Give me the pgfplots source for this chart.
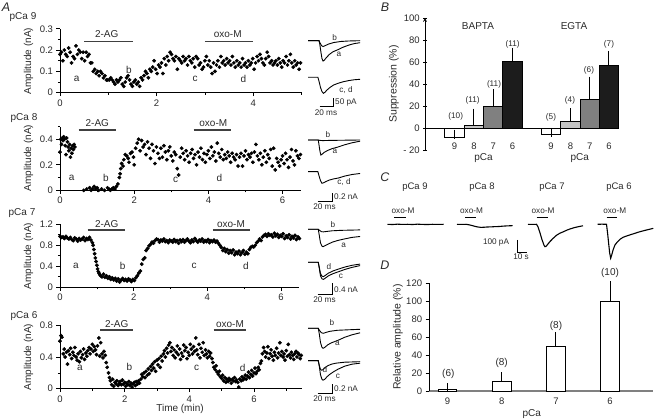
\documentclass[border=0pt]{standalone}
\usepackage{fontspec}
\setmainfont{Liberation Sans}
\usepackage{pgfplots}
\pgfplotsset{compat=1.18}
\definecolor{txt}{HTML}{2A2A2A}
\definecolor{barlt}{HTML}{C4C4C4}
\definecolor{barmd}{HTML}{808080}
\definecolor{bardk}{HTML}{1C1C1C}
\newcommand\fa{\fontsize{9.5}{10}\selectfont}
\newcommand\fc{\fontsize{10}{11}\selectfont}
\newcommand\fb{\fontsize{8.2}{9}\selectfont}
\newcommand\fl{\fontsize{12.5}{12}\selectfont\itshape}
\pgfplotsset{
  scat/.style={
    axis lines=left, axis line style={-, line width=0.7pt},
    tick align=outside, major tick length=3.5pt, minor tick length=2pt,
    tick style={black, line width=0.6pt},
    every tick label/.append style={font=\fa, text=txt},
    /pgf/number format/assume math mode=true,
    anchor=south west, clip=false,
  },
  dots/.style={only marks, mark=*, mark size=1.7pt, black},
  tr/.style={hide axis, anchor=south west, xmin=0, xmax=71, x=0.733pt, clip=false},
  trl/.style={black, line width=0.9pt, no marks},
  eb/.style={error bars/.cd, y dir=plus, y explicit, error bar style={line width=0.9pt,black}, error mark options={line width=0.9pt, black, mark size=4.5pt}},
}
\begin{document}
\begin{tikzpicture}
\useasboundingbox (0,0) rectangle (654pt,420pt);
% ---------------- A1 pCa 9
\begin{axis}[scat, at={(60pt,327.3pt)}, x=48.3pt, y=213pt, xmin=0,xmax=5,ymin=0,ymax=0.3,
  xtick={0,2,4}, minor xtick={1,3,5}, ytick={0,0.1,0.2,0.3}, minor ytick={0.05,0.15,0.25}]
\addplot[dots] coordinates {(0,0.18)(0.03,0.19)(0.06,0.15)(0.09,0.20)(0.12,0.18)(0.15,0.17)(0.18,0.21)(0.21,0.19)(0.24,0.14)(0.27,0.17)(0.30,0.16)(0.33,0.22)(0.36,0.18)(0.39,0.20)(0.42,0.19)(0.45,0.16)(0.48,0.19)(0.51,0.15)(0.54,0.19)(0.57,0.17)(0.60,0.18)(0.63,0.14)(0.66,0.14)(0.69,0.10)(0.72,0.11)(0.75,0.09)(0.78,0.10)(0.81,0.08)(0.84,0.10)(0.87,0.09)(0.90,0.07)(0.93,0.08)(0.96,0.06)(0.99,0.06)(1.02,0.06)(1.05,0.07)(1.08,0.06)(1.11,0.05)(1.14,0.04)(1.17,0.06)(1.20,0.05)(1.23,0.06)(1.26,0.07)(1.29,0.04)(1.32,0.03)(1.35,0.05)(1.38,0.07)(1.41,0.08)(1.44,0.06)(1.47,0.04)(1.50,0.03)(1.53,0.05)(1.56,0.06)(1.59,0.04)(1.62,0.05)(1.65,0.03)(1.68,0.07)(1.71,0.06)(1.74,0.08)(1.77,0.10)(1.80,0.09)(1.83,0.07)(1.86,0.11)(1.89,0.10)(1.92,0.12)(1.95,0.15)(1.98,0.11)(2.01,0.09)(2.04,0.13)(2.07,0.12)(2.10,0.14)(2.13,0.09)(2.16,0.16)(2.19,0.13)(2.22,0.17)(2.25,0.15)(2.28,0.19)(2.31,0.18)(2.34,0.16)(2.37,0.15)(2.40,0.17)(2.43,0.11)(2.46,0.16)(2.49,0.15)(2.52,0.14)(2.55,0.17)(2.58,0.15)(2.61,0.16)(2.64,0.13)(2.67,0.17)(2.70,0.15)(2.73,0.14)(2.76,0.16)(2.79,0.12)(2.82,0.17)(2.85,0.16)(2.88,0.13)(2.91,0.14)(2.94,0.11)(2.97,0.12)(3.00,0.15)(3.03,0.17)(3.06,0.13)(3.09,0.15)(3.12,0.12)(3.15,0.09)(3.18,0.14)(3.21,0.10)(3.24,0.13)(3.27,0.15)(3.30,0.12)(3.33,0.17)(3.36,0.14)(3.39,0.15)(3.42,0.13)(3.45,0.16)(3.48,0.14)(3.51,0.15)(3.54,0.13)(3.57,0.17)(3.60,0.14)(3.63,0.12)(3.66,0.15)(3.69,0.13)(3.72,0.14)(3.75,0.12)(3.78,0.16)(3.81,0.13)(3.84,0.14)(3.87,0.12)(3.90,0.15)(3.93,0.13)(3.96,0.14)(3.99,0.16)(4.02,0.11)(4.05,0.14)(4.08,0.17)(4.11,0.15)(4.14,0.18)(4.17,0.16)(4.20,0.14)(4.23,0.13)(4.26,0.16)(4.29,0.19)(4.32,0.17)(4.35,0.14)(4.38,0.15)(4.41,0.13)(4.44,0.14)(4.47,0.15)(4.50,0.13)(4.53,0.16)(4.56,0.14)(4.59,0.12)(4.62,0.15)(4.65,0.14)(4.68,0.17)(4.71,0.13)(4.74,0.15)(4.77,0.18)(4.80,0.14)(4.83,0.12)(4.86,0.15)(4.89,0.13)(4.92,0.14)(4.95,0.11)(4.98,0.14)};
\end{axis}
% ---------------- A2 pCa 8
\begin{axis}[scat, at={(60pt,229.7pt)}, x=37.1pt, y=127.5pt, xmin=0,xmax=6.5,ymin=0,ymax=0.5,
  xtick={0,2,4,6}, minor xtick={1,3,5}, ytick={0,0.2,0.4}, minor ytick={0.1,0.3,0.5}]
\addplot[dots] coordinates {(0.00,0.30)(0.02,0.40)(0.04,0.36)(0.06,0.41)(0.08,0.39)(0.10,0.42)(0.12,0.40)(0.14,0.35)(0.16,0.28)(0.18,0.41)(0.20,0.38)(0.22,0.34)(0.24,0.31)(0.26,0.36)(0.28,0.26)(0.30,0.33)(0.32,0.29)(0.34,0.35)(0.36,0.32)(0.38,0.36)(0.40,0.34)(0.64,0.00)(0.72,0.01)(0.80,0.02)(0.84,0.00)(0.88,0.01)(0.92,0.03)(0.96,0.01)(1.00,0.02)(1.04,0.00)(1.12,0.01)(1.20,0.00)(1.28,0.02)(1.32,0.01)(1.36,0.00)(1.40,0.01)(1.44,0.02)(1.48,0.01)(1.52,0.03)(1.56,0.05)(1.60,0.10)(1.62,0.13)(1.64,0.17)(1.66,0.21)(1.70,0.19)(1.72,0.24)(1.76,0.28)(1.80,0.27)(1.84,0.25)(1.86,0.22)(1.90,0.29)(1.94,0.30)(1.98,0.26)(2.00,0.20)(2.04,0.33)(2.08,0.37)(2.12,0.40)(2.16,0.31)(2.20,0.39)(2.24,0.34)(2.28,0.36)(2.32,0.28)(2.36,0.38)(2.40,0.33)(2.44,0.25)(2.48,0.36)(2.52,0.31)(2.56,0.21)(2.60,0.34)(2.64,0.29)(2.68,0.25)(2.72,0.33)(2.76,0.26)(2.80,0.35)(2.84,0.30)(2.88,0.24)(2.92,0.31)(2.96,0.34)(3.00,0.27)(3.04,0.23)(3.08,0.30)(3.12,0.28)(3.16,0.17)(3.20,0.12)(3.24,0.26)(3.28,0.33)(3.32,0.29)(3.36,0.24)(3.40,0.31)(3.44,0.27)(3.48,0.22)(3.52,0.29)(3.56,0.32)(3.60,0.25)(3.64,0.28)(3.68,0.20)(3.72,0.30)(3.76,0.26)(3.80,0.33)(3.84,0.24)(3.88,0.29)(3.92,0.22)(3.96,0.28)(4.00,0.31)(4.04,0.25)(4.08,0.34)(4.12,0.27)(4.16,0.30)(4.20,0.23)(4.24,0.37)(4.28,0.29)(4.32,0.26)(4.36,0.32)(4.40,0.24)(4.44,0.28)(4.48,0.25)(4.52,0.30)(4.56,0.27)(4.60,0.22)(4.64,0.29)(4.68,0.26)(4.72,0.24)(4.76,0.28)(4.80,0.19)(4.84,0.26)(4.88,0.29)(4.92,0.19)(4.96,0.27)(5.00,0.31)(5.04,0.24)(5.08,0.28)(5.12,0.26)(5.16,0.29)(5.20,0.22)(5.24,0.30)(5.28,0.36)(5.32,0.27)(5.36,0.24)(5.40,0.29)(5.44,0.20)(5.48,0.26)(5.52,0.31)(5.56,0.22)(5.60,0.28)(5.64,0.25)(5.68,0.32)(5.72,0.19)(5.76,0.33)(5.80,0.16)(5.84,0.25)(5.88,0.22)(5.92,0.19)(5.96,0.24)(6.00,0.27)(6.04,0.21)(6.08,0.29)(6.12,0.24)(6.16,0.18)(6.20,0.26)(6.24,0.32)(6.28,0.23)(6.32,0.20)(6.36,0.31)(6.40,0.27)(6.44,0.25)(6.48,0.28)};
\end{axis}
% ---------------- A3 pCa 7
\begin{axis}[scat, at={(60pt,132.7pt)}, x=36.83pt, y=52.5pt, xmin=0,xmax=6.5,ymin=0,ymax=1.2,
  xtick={0,2,4,6}, minor xtick={1,3,5}, ytick={0,0.4,0.8,1.2}, minor ytick={0.2,0.6,1.0}]
\addplot[dots] coordinates {(0.00,0.97)(0.04,0.95)(0.08,0.96)(0.12,0.93)(0.16,0.97)(0.20,0.94)(0.24,0.92)(0.28,0.95)(0.32,0.91)(0.36,0.89)(0.40,0.94)(0.44,0.92)(0.48,0.88)(0.52,0.93)(0.56,0.90)(0.60,0.92)(0.64,0.95)(0.68,0.89)(0.72,0.93)(0.76,0.91)(0.80,0.95)(0.84,0.90)(0.88,0.85)(0.90,0.80)(0.92,0.72)(0.94,0.64)(0.96,0.56)(0.98,0.49)(1.00,0.42)(1.02,0.35)(1.04,0.30)(1.06,0.27)(1.08,0.24)(1.10,0.22)(1.14,0.20)(1.18,0.25)(1.22,0.19)(1.26,0.22)(1.30,0.17)(1.34,0.20)(1.38,0.15)(1.42,0.18)(1.46,0.14)(1.50,0.17)(1.54,0.12)(1.58,0.16)(1.62,0.10)(1.66,0.14)(1.70,0.17)(1.74,0.13)(1.78,0.15)(1.82,0.12)(1.86,0.16)(1.90,0.14)(1.94,0.11)(1.98,0.15)(2.02,0.13)(2.06,0.18)(2.10,0.22)(2.14,0.27)(2.18,0.31)(2.22,0.44)(2.26,0.53)(2.30,0.56)(2.34,0.70)(2.38,0.74)(2.42,0.79)(2.46,0.82)(2.50,0.86)(2.54,0.84)(2.58,0.89)(2.62,0.92)(2.66,0.91)(2.70,0.86)(2.74,0.90)(2.78,0.88)(2.82,0.92)(2.86,0.87)(2.90,0.89)(2.94,0.85)(2.98,0.90)(3.02,0.88)(3.06,0.86)(3.10,0.91)(3.14,0.87)(3.18,0.89)(3.22,0.84)(3.26,0.90)(3.30,0.87)(3.34,0.91)(3.38,0.86)(3.42,0.89)(3.46,0.92)(3.50,0.88)(3.54,0.85)(3.58,0.90)(3.62,0.87)(3.66,0.93)(3.70,0.89)(3.74,0.86)(3.78,0.90)(3.82,0.88)(3.86,0.92)(3.90,0.86)(3.94,0.89)(3.98,0.87)(4.02,0.91)(4.06,0.85)(4.10,0.89)(4.14,0.87)(4.18,0.90)(4.22,0.86)(4.26,0.88)(4.30,0.84)(4.34,0.80)(4.38,0.76)(4.42,0.70)(4.46,0.74)(4.50,0.68)(4.54,0.72)(4.58,0.65)(4.62,0.70)(4.66,0.66)(4.70,0.71)(4.74,0.62)(4.78,0.67)(4.82,0.64)(4.86,0.69)(4.90,0.62)(4.94,0.66)(4.98,0.70)(5.02,0.63)(5.06,0.67)(5.10,0.64)(5.14,0.72)(5.18,0.76)(5.22,0.78)(5.26,0.77)(5.30,0.80)(5.34,0.85)(5.38,0.88)(5.42,0.92)(5.46,0.89)(5.50,0.96)(5.54,0.99)(5.58,1.01)(5.62,0.97)(5.66,1.02)(5.70,0.99)(5.74,1.00)(5.78,0.96)(5.82,1.03)(5.86,0.98)(5.90,1.01)(5.94,0.95)(5.98,0.99)(6.02,0.97)(6.06,1.02)(6.10,0.93)(6.14,0.98)(6.18,0.95)(6.22,1.00)(6.26,0.92)(6.30,0.97)(6.34,0.94)(6.38,0.99)(6.42,0.91)(6.46,0.96)(6.50,0.93)};
\end{axis}
% ---------------- A4 pCa 6
\begin{axis}[scat, at={(60pt,31.3pt)}, x=32.33pt, y=79.25pt, xmin=0,xmax=7.5,ymin=0,ymax=0.8,
  xtick={0,2,4,6}, minor xtick={1,3,5,7}, ytick={0,0.4,0.8}, minor ytick={0.2,0.6}]
\addplot[dots] coordinates {(0.00,0.60)(0.03,0.67)(0.06,0.65)(0.10,0.44)(0.13,0.50)(0.16,0.40)(0.20,0.46)(0.23,0.31)(0.26,0.48)(0.30,0.43)(0.33,0.51)(0.36,0.38)(0.40,0.46)(0.43,0.42)(0.46,0.52)(0.50,0.40)(0.53,0.36)(0.56,0.44)(0.60,0.34)(0.63,0.47)(0.66,0.39)(0.70,0.43)(0.73,0.50)(0.76,0.37)(0.80,0.45)(0.83,0.41)(0.86,0.48)(0.90,0.52)(0.93,0.44)(0.96,0.50)(1.00,0.56)(1.03,0.47)(1.06,0.53)(1.10,0.49)(1.13,0.43)(1.16,0.54)(1.20,0.64)(1.23,0.41)(1.26,0.58)(1.30,0.44)(1.33,0.39)(1.36,0.47)(1.40,0.42)(1.43,0.33)(1.46,0.27)(1.50,0.20)(1.53,0.14)(1.56,0.10)(1.60,0.05)(1.63,0.12)(1.66,0.03)(1.70,0.08)(1.73,0.06)(1.76,0.10)(1.80,0.04)(1.83,0.07)(1.86,0.09)(1.90,0.05)(1.93,0.11)(1.96,0.06)(2.00,0.08)(2.03,0.03)(2.06,0.07)(2.10,0.05)(2.13,0.09)(2.16,0.04)(2.20,0.07)(2.23,0.02)(2.26,0.06)(2.30,0.08)(2.33,0.04)(2.36,0.09)(2.40,0.06)(2.43,0.10)(2.46,0.07)(2.50,0.12)(2.53,0.18)(2.56,0.15)(2.60,0.20)(2.63,0.14)(2.66,0.22)(2.70,0.17)(2.73,0.25)(2.76,0.19)(2.80,0.28)(2.83,0.23)(2.86,0.31)(2.90,0.26)(2.93,0.34)(2.96,0.22)(3.00,0.36)(3.03,0.30)(3.06,0.38)(3.10,0.27)(3.13,0.41)(3.16,0.35)(3.20,0.44)(3.23,0.48)(3.26,0.40)(3.30,0.51)(3.33,0.45)(3.36,0.55)(3.40,0.58)(3.43,0.47)(3.46,0.52)(3.50,0.42)(3.53,0.49)(3.56,0.39)(3.60,0.46)(3.63,0.54)(3.66,0.43)(3.70,0.50)(3.73,0.37)(3.76,0.45)(3.80,0.41)(3.83,0.55)(3.86,0.48)(3.90,0.52)(3.93,0.38)(3.96,0.46)(4.00,0.42)(4.03,0.56)(4.06,0.50)(4.10,0.44)(4.13,0.53)(4.16,0.47)(4.20,0.64)(4.23,0.49)(4.26,0.43)(4.30,0.56)(4.33,0.39)(4.36,0.51)(4.40,0.46)(4.43,0.58)(4.46,0.42)(4.50,0.49)(4.53,0.44)(4.56,0.39)(4.60,0.47)(4.63,0.41)(4.66,0.45)(4.70,0.38)(4.73,0.33)(4.76,0.27)(4.80,0.24)(4.83,0.29)(4.86,0.21)(4.90,0.18)(4.93,0.22)(4.96,0.15)(5.00,0.13)(5.03,0.17)(5.06,0.10)(5.10,0.14)(5.13,0.08)(5.16,0.12)(5.20,0.09)(5.23,0.13)(5.26,0.11)(5.30,0.07)(5.33,0.12)(5.36,0.10)(5.40,0.14)(5.43,0.09)(5.46,0.11)(5.50,0.08)(5.53,0.02)(5.56,0.12)(5.60,0.10)(5.63,0.15)(5.66,0.11)(5.70,0.13)(5.73,0.17)(5.76,0.12)(5.80,0.16)(5.83,0.21)(5.86,0.14)(5.90,0.18)(5.93,0.23)(5.96,0.16)(6.00,0.20)(6.03,0.26)(6.06,0.19)(6.10,0.22)(6.13,0.27)(6.16,0.24)(6.20,0.32)(6.23,0.35)(6.26,0.44)(6.30,0.52)(6.33,0.47)(6.36,0.40)(6.40,0.45)(6.43,0.53)(6.46,0.38)(6.50,0.44)(6.53,0.49)(6.56,0.41)(6.60,0.36)(6.63,0.46)(6.66,0.42)(6.70,0.51)(6.73,0.39)(6.76,0.45)(6.80,0.58)(6.83,0.42)(6.86,0.47)(6.90,0.40)(6.93,0.44)(6.96,0.36)(7.00,0.48)(7.03,0.41)(7.06,0.56)(7.10,0.43)(7.13,0.39)(7.16,0.46)(7.20,0.42)(7.23,0.37)(7.26,0.44)(7.30,0.47)(7.33,0.40)(7.36,0.45)(7.40,0.43)(7.43,0.38)(7.46,0.42)};
\end{axis}
% ---------------- A traces
\begin{axis}[tr, at={(308pt,356.2pt)}, y=0.154pt, ymin=-150, ymax=20]
\addplot[trl] coordinates {(0,0)(15,0)(16,-20)(17.5,-70)(19,-115)(20.5,-132)(22,-128)(25,-110)(29,-90)(34,-72)(41,-58)(48,-42)(56,-28)(63,-19)(71,-13)};
\addplot[trl] coordinates {(0,0)(15,0)(16.5,-15)(18.5,-32)(20.5,-38)(23,-33)(28,-22)(35,-12)(45,-5)(55,-2)(71,0)};
\end{axis}
\begin{axis}[tr, at={(308pt,319.6pt)}, y=0.154pt, ymin=-150, ymax=20]
\addplot[trl] coordinates {(0,0)(13.5,0)(15,-25)(17,-65)(19,-92)(21,-104)(23,-98)(26,-82)(30,-66)(35,-50)(41,-39)(48,-29)(56,-21)(63,-16)(71,-13)};
\end{axis}
\begin{axis}[tr, at={(308pt,260pt)}, y=40pt, ymin=-0.5, ymax=0.05]
\addplot[trl] coordinates {(0,0)(14,0)(15,-0.12)(16.3,-0.28)(17.5,-0.375)(19,-0.36)(22,-0.31)(27,-0.26)(33,-0.215)(41,-0.175)(50,-0.12)(60,-0.07)(71,-0.03)};
\addplot[trl] coordinates {(0,0)(14,0)(16,-0.01)(20,-0.015)(30,-0.01)(71,0)};
\end{axis}
\begin{axis}[tr, at={(308pt,228.3pt)}, y=40pt, ymin=-0.5, ymax=0.05]
\addplot[trl] coordinates {(0,0)(13.5,0)(15,-0.1)(17,-0.22)(19,-0.29)(21,-0.28)(24,-0.25)(29,-0.21)(35,-0.18)(41,-0.16)(50,-0.11)(60,-0.07)(71,-0.045)};
\end{axis}
\begin{axis}[tr, at={(308pt,169.7pt)}, y=30pt, ymin=-0.7, ymax=0.05]
\addplot[trl] coordinates {(0,0)(14,0)(15.5,-0.22)(17,-0.45)(19,-0.56)(20.5,-0.58)(23,-0.55)(27,-0.5)(33,-0.43)(41,-0.37)(50,-0.32)(60,-0.27)(71,-0.24)};
\addplot[trl] coordinates {(0,0)(14,0)(16,-0.04)(18.5,-0.08)(21,-0.085)(26,-0.07)(33,-0.05)(45,-0.035)(71,-0.02)};
\end{axis}
\begin{axis}[tr, at={(308pt,136.7pt)}, y=30pt, ymin=-0.7, ymax=0.05]
\addplot[trl] coordinates {(0,0)(14,0)(15.5,-0.22)(17,-0.45)(19,-0.55)(21,-0.57)(24,-0.52)(28,-0.45)(34,-0.38)(41,-0.32)(50,-0.24)(60,-0.17)(71,-0.11)};
\addplot[trl] coordinates {(0,0)(14,0)(15.5,-0.18)(17,-0.37)(19,-0.46)(21,-0.48)(24,-0.43)(28,-0.36)(34,-0.29)(41,-0.23)(50,-0.16)(60,-0.1)(71,-0.06)};
\end{axis}
\begin{axis}[tr, at={(308pt,66.7pt)}, y=50pt, ymin=-0.5, ymax=0.05]
\addplot[trl] coordinates {(0,0)(14,0)(15.5,-0.12)(17,-0.28)(19,-0.38)(20.5,-0.40)(23,-0.38)(27,-0.33)(32,-0.29)(41,-0.24)(50,-0.18)(60,-0.13)(71,-0.09)};
\addplot[trl] coordinates {(0,0)(14,0)(16,-0.05)(18.5,-0.09)(21,-0.1)(25,-0.08)(30,-0.06)(40,-0.04)(55,-0.03)(71,-0.02)};
\end{axis}
\begin{axis}[tr, at={(308pt,34.3pt)}, y=50pt, ymin=-0.5, ymax=0.05]
\addplot[trl] coordinates {(0,0)(14,0)(15.5,-0.12)(17,-0.28)(19,-0.37)(20.5,-0.39)(23,-0.37)(26,-0.32)(30,-0.27)(35,-0.22)(41,-0.17)(50,-0.11)(60,-0.07)(71,-0.05)};
\addplot[trl] coordinates {(0,0)(14,0)(15.5,-0.1)(17,-0.17)(18.5,-0.19)(20.5,-0.18)(23,-0.14)(27,-0.1)(32,-0.07)(38,-0.05)(50,-0.03)(71,-0.02)};
\end{axis}
% ---------------- B
\begin{axis}[scat, at={(425pt,270pt)}, x=19.3pt, y=1.1pt, xmin=-0.53, xmax=9.5, ymin=-20, ymax=100,
  axis x line=none, axis y line=left, ytick={-20,0,20,40,60,80,100}, yticklabels={- 20,0,20,40,60,80,100}]
\draw[black, line width=0.7pt] (axis cs:-0.53,0) -- (axis cs:9.5,0);
\addplot[ybar, bar width=19.3pt, bar shift=0pt, fill=white, draw=black, line width=0.8pt, eb] coordinates {(1,-9) +- (0,3.5)};
\addplot[ybar, bar width=19.3pt, bar shift=0pt, fill=barlt, draw=black, line width=0.8pt, eb] coordinates {(2,2) +- (0,11.5)};
\addplot[ybar, bar width=19.3pt, bar shift=0pt, fill=barmd, draw=black, line width=0.8pt, eb] coordinates {(3,19.5) +- (0,11.5)};
\addplot[ybar, bar width=19.3pt, bar shift=0pt, fill=bardk, draw=black, line width=0.8pt, eb] coordinates {(4,60.5) +- (0,8.5)};
\addplot[ybar, bar width=19.3pt, bar shift=0pt, fill=white, draw=black, line width=0.8pt, eb] coordinates {(6,-6) +- (0,2)};
\addplot[ybar, bar width=19.3pt, bar shift=0pt, fill=barlt, draw=black, line width=0.8pt, eb] coordinates {(7,6) +- (0,8)};
\addplot[ybar, bar width=19.3pt, bar shift=0pt, fill=barmd, draw=black, line width=0.8pt, eb] coordinates {(8,26) +- (0,16.5)};
\addplot[ybar, bar width=19.3pt, bar shift=0pt, fill=bardk, draw=black, line width=0.8pt, eb] coordinates {(9,56.5) +- (0,9.5)};
\end{axis}
% ---------------- C traces
\begin{axis}[hide axis, anchor=south west, at={(387.5pt,158.8pt)}, x=1pt, y=0.123pt, xmin=0, xmax=56, ymin=-300, ymax=20, clip=false]
\addplot[trl, line width=1.1pt] coordinates {(0,0)(5,-2)(10,1)(15,-1)(20,0)(25,-2)(30,1)(35,-1)(40,-2)(45,0)(50,-1)(56,0)};
\end{axis}
\begin{axis}[hide axis, anchor=south west, at={(457pt,158.8pt)}, x=1pt, y=0.123pt, xmin=0, xmax=56, ymin=-300, ymax=20, clip=false]
\addplot[trl, line width=1.1pt] coordinates {(0,0)(5,-1)(9,0)(12,-4)(15,-10)(18,-17)(21,-22)(24,-25)(27,-24)(30,-22)(34,-21)(38,-19)(42,-18)(46,-15)(50,-13)(55.7,-11)};
\end{axis}
\begin{axis}[hide axis, anchor=south west, at={(528pt,158.8pt)}, x=1pt, y=0.123pt, xmin=0, xmax=56, ymin=-300, ymax=20, clip=false]
\addplot[trl, line width=1.1pt] coordinates {(0,0)(4,-1)(8.5,0)(10,-20)(12,-70)(14,-125)(16,-170)(17,-182)(18,-180)(20,-160)(22,-140)(25,-115)(28.7,-88)(32,-72)(35,-62)(38.7,-48)(42,-38)(46,-28)(50,-20)(55,-12)};
\end{axis}
\begin{axis}[hide axis, anchor=south west, at={(597.7pt,158.8pt)}, x=1pt, y=0.123pt, xmin=0, xmax=56, ymin=-300, ymax=20, clip=false]
\addplot[trl, line width=1.1pt] coordinates {(0,0)(4,1)(8.8,0)(10,-80)(11,-160)(12,-235)(13,-276)(14,-250)(15.5,-205)(17.3,-168)(19.5,-145)(22.3,-122)(25.5,-105)(29,-95)(33,-84)(37,-74)(42.3,-60)(47,-50)(52,-40)(55.6,-33)};
\end{axis}
% ---------------- D
\begin{axis}[scat, at={(429.1pt,29pt)}, x=54.2pt, y=0.8975pt, xmin=0.66, xmax=4.8, ymin=0, ymax=120,
  xtick={1,2,3,4}, xticklabels={9,8,7,6}, xtick style={draw=none}, ytick={0,20,40,60,80,100,120},
  x axis line style={draw=gray, line width=1.3pt}]
\addplot[ybar, bar width=18.5pt, bar shift=0pt, fill=white, draw=black, line width=0.9pt, eb] coordinates {(1,2) +- (0,1.5)};
\addplot[ybar, bar width=18.5pt, bar shift=0pt, fill=white, draw=black, line width=0.9pt, eb] coordinates {(2,10.5) +- (0,5.5)};
\addplot[ybar, bar width=18.5pt, bar shift=0pt, fill=white, draw=black, line width=0.9pt, eb] coordinates {(3,49.5) +- (0,11)};
\addplot[ybar, bar width=18.5pt, bar shift=0pt, fill=white, draw=black, line width=0.9pt, eb] coordinates {(4,100) +- (0,17.5)};
\end{axis}
% ---------------- annotations (pixel coordinates, y downward)
\begin{scope}[x=1pt,y=-1pt,yshift=420pt, every node/.style={text=txt, inner sep=0pt}]
\node[font=\fl] at (6,7) {A};
\node[font=\fl] at (385,7) {B};
\node[font=\fl] at (385,177) {C};
\node[font=\fl] at (385,265) {D};
% pCa labels
\node[font=\fc] at (23,17.5) {pCa 9};
\node[font=\fc] at (24,118) {pCa 8};
\node[font=\fc] at (22,213) {pCa 7};
\node[font=\fc] at (24,316) {pCa 6};
% y labels
\node[font=\fc, rotate=90] at (28.5,61) {Amplitude (nA)};
\node[font=\fc, rotate=90] at (28.5,158) {Amplitude (nA)};
\node[font=\fc, rotate=90] at (28.5,256) {Amplitude (nA)};
\node[font=\fc, rotate=90] at (28.5,357) {Amplitude (nA)};
\node[font=\fc] at (180,409) {Time (min)};
% drug bars
\draw[line width=1.5pt, black!75] (84.2,41.3) -- (132.5,41.3);
\draw[line width=1.5pt, black!75] (204.9,41.3) -- (253.2,41.3);
\node[font=\fc] at (106.7,34) {2-AG};
\node[font=\fc] at (227.7,34) {oxo-M};
\draw[line width=1.5pt, black!75] (78.6,130) -- (115.7,130);
\draw[line width=1.5pt, black!75] (193.6,130) -- (230.7,130);
\node[font=\fc] at (97.3,123.5) {2-AG};
\node[font=\fc] at (213.3,123.5) {oxo-M};
\draw[line width=1.5pt, black!75] (87.6,230) -- (124.5,230);
\draw[line width=1.5pt, black!75] (212.8,230) -- (249.7,230);
\node[font=\fc] at (106.7,224.5) {2-AG};
\node[font=\fc] at (231,224.5) {oxo-M};
\draw[line width=1.5pt, black!75] (100.4,330) -- (132.7,330);
\draw[line width=1.5pt, black!75] (213.6,330) -- (245.9,330);
\node[font=\fc] at (116.7,324.5) {2-AG};
\node[font=\fc] at (230,324.5) {oxo-M};
% a b c d
\node[font=\fc] at (76.7,79.3) {a};
\node[font=\fc] at (129,70) {b};
\node[font=\fc] at (195,79.3) {c};
\node[font=\fc] at (243.3,79.3) {d};
\node[font=\fc] at (71.7,177.7) {a};
\node[font=\fc] at (106,177.7) {b};
\node[font=\fc] at (175.7,180) {c};
\node[font=\fc] at (219.3,177.7) {d};
\node[font=\fc] at (76,266) {a};
\node[font=\fc] at (122.7,266) {b};
\node[font=\fc] at (194,266) {c};
\node[font=\fc] at (246,266) {d};
\node[font=\fc] at (80,368.3) {a};
\node[font=\fc] at (129.3,367.3) {b};
\node[font=\fc] at (196.7,368.3) {c};
\node[font=\fc] at (242.7,368.3) {d};
% trace labels
\node[font=\fb] at (334.6,37.5) {b};
\node[font=\fb] at (339,54) {a};
\node[font=\fb] at (346,90) {c, d};
\node[font=\fb] at (328,134.3) {b};
\node[font=\fb] at (335,151.7) {a};
\node[font=\fb] at (344,182.5) {c, d};
\node[font=\fb] at (333,225) {b};
\node[font=\fb] at (343.7,245) {a};
\node[font=\fb] at (329,266.7) {d};
\node[font=\fb] at (341,276.7) {c};
\node[font=\fb] at (332,322.7) {b};
\node[font=\fb] at (337.5,343.3) {a};
\node[font=\fb] at (325,369.3) {d};
\node[font=\fb] at (338,376.7) {c};
% scale bars A
\draw[line width=0.9pt] (319.5,106) -- (333,106) -- (333,98);
\node[font=\fb, anchor=west] at (335,102.5) {50 pA};
\node[font=\fb] at (326,112.5) {20 ms};
\draw[line width=0.9pt] (317.5,201) -- (332,201) -- (332,193);
\node[font=\fb, anchor=west] at (334,197) {0.2 nA};
\node[font=\fb] at (324.5,207) {20 ms};
\draw[line width=0.9pt] (317.5,294) -- (332,294) -- (332,283);
\node[font=\fb, anchor=west] at (334,289.5) {0.4 nA};
\node[font=\fb] at (324.5,300) {20 ms};
\draw[line width=0.9pt] (317.5,393) -- (332,393) -- (332,384);
\node[font=\fb, anchor=west] at (334,389) {0.2 nA};
\node[font=\fb] at (324.5,398.5) {20 ms};
% B labels
\node[font=\fc] at (478,26) {BAPTA};
\node[font=\fc] at (574,26) {EGTA};
\node[font=\fontsize{10.5}{11}\selectfont, rotate=90] at (394,84) {Suppression (\%)};
\node[font=\fb] at (455.7,116.7) {(10)};
\node[font=\fb] at (472.7,100) {(11)};
\node[font=\fb] at (494,84) {(11)};
\node[font=\fb] at (512.7,44) {(11)};
\node[font=\fb] at (551,117.7) {(5)};
\node[font=\fb] at (570,100.7) {(4)};
\node[font=\fb] at (589,70.7) {(6)};
\node[font=\fb] at (609,44) {(7)};
\foreach \xx/\lab in {454.6/9,473.9/8,493.2/7,512.5/6,551.1/9,570.4/8,589.7/7,609/6}{\node[font=\fa] at (\xx,146.7) {\lab};}
\node[font=\fc] at (483.5,158.5) {pCa};
\node[font=\fc] at (579.8,158.5) {pCa};
% C labels
\node[font=\fa] at (415,187.5) {pCa 9};
\node[font=\fa] at (482,187.5) {pCa 8};
\node[font=\fa] at (552,187.5) {pCa 7};
\node[font=\fa] at (619,187.5) {pCa 6};
\node[font=\fb] at (403,211) {oxo-M};
\node[font=\fb] at (471.5,211) {oxo-M};
\node[font=\fb] at (543,211) {oxo-M};
\node[font=\fb] at (614.7,211) {oxo-M};
\draw[line width=1.5pt] (393.8,217.7) -- (406.3,217.7);
\draw[line width=1.5pt] (465,217.7) -- (476,217.7);
\draw[line width=1.5pt] (536.7,217.7) -- (547.7,217.7);
\draw[line width=1.5pt] (606.7,217.7) -- (616.7,217.7);
\draw[line width=0.9pt] (517.3,240) -- (517.3,252.3) -- (527.3,252.3);
\node[font=\fb] at (496,242.3) {100 pA};
\node[font=\fb] at (521,257) {10 s};
% D labels
\node[font=\fontsize{10.5}{11}\selectfont, rotate=90] at (398,337) {Relative amplitude (\%)};
\node[font=\fc] at (448.3,374.3) {(6)};
\node[font=\fc] at (501.7,362.7) {(8)};
\node[font=\fc] at (556,326) {(8)};
\node[font=\fc] at (610,273.3) {(10)};
\node[font=\fc] at (531.7,414.3) {pCa};
\end{scope}
\end{tikzpicture}
\end{document}
